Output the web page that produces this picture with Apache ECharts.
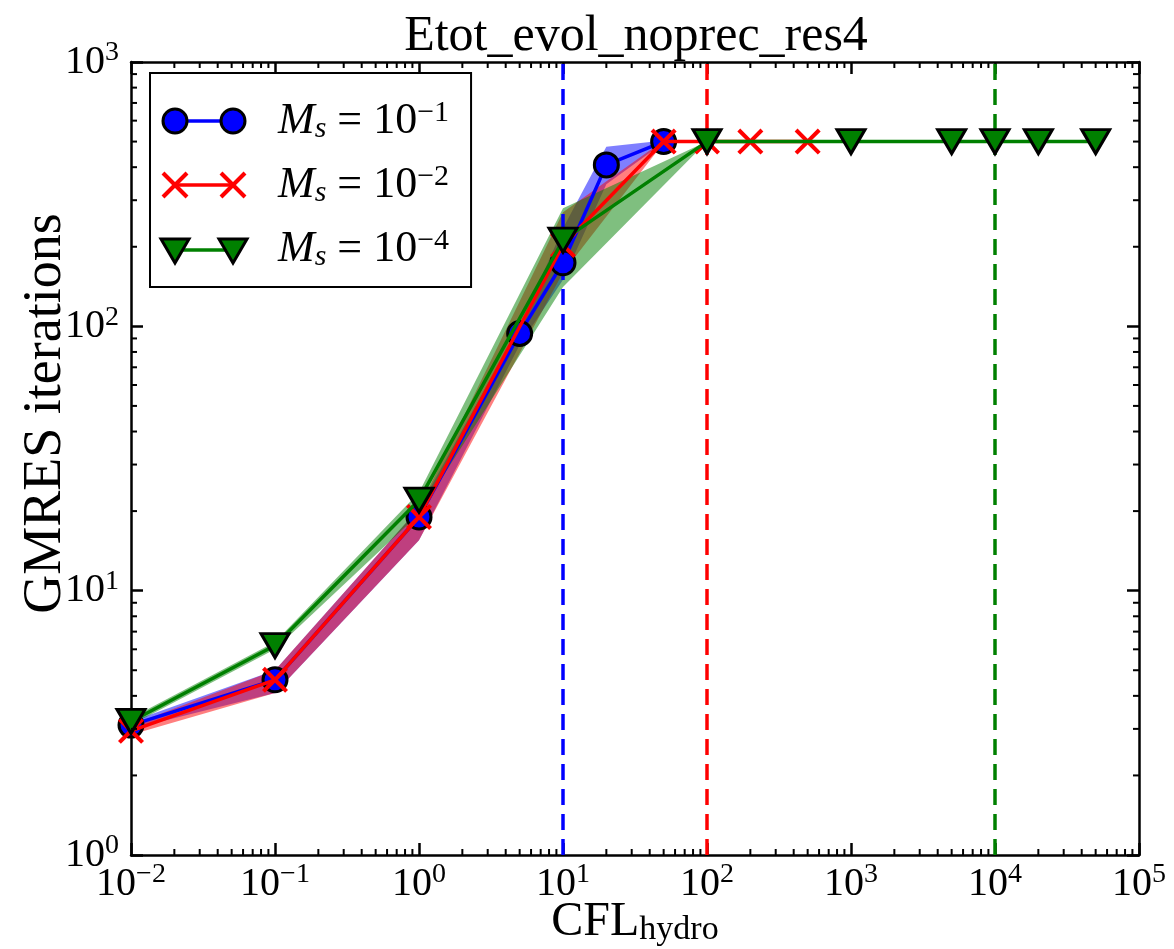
<!DOCTYPE html>
<html><head><meta charset="utf-8">
<script src="https://cdn.jsdelivr.net/npm/echarts@6/dist/echarts.min.js"></script>
<style>html,body{margin:0;padding:0;background:#fff}#chart{width:1174px;height:949px}</style>
</head><body><div id="chart"></div>
<script>
// ---- data ----
const xBlue  = [0.01, 0.1, 1, 5, 10, 20, 50];
const yBlue  = [3.1, 4.6, 19, 94, 174, 408, 500];
const loBlue = [3.0, 4.1, 15.5, 85, 150, 345, 495];
const hiBlue = [3.2, 5.0, 20.5, 100, 235, 478, 505];

const xRed  = [0.01, 0.1, 1, 10, 50, 100, 200, 500];
const yRed  = [2.95, 4.6, 19, 203, 500, 500, 500, 500];
const loRed = [2.85, 4.1, 15.5, 160, 495, 500, 500, 500];
const hiRed = [3.1, 5.0, 20.5, 270, 505, 500, 500, 500];

const xGreen  = [0.01, 0.1, 1, 10, 100, 1000, 5000, 10000, 20000, 50000];
const yGreen  = [3.2, 6.2, 22, 212, 500, 500, 500, 500, 500, 500];
const loGreen = [3.1, 6.0, 19.5, 141, 500, 500, 500, 500, 500, 500];
const hiGreen = [3.3, 6.4, 23.5, 280, 500, 500, 500, 500, 500, 500];

const vlines = [10, 100, 10000];
const seriesNames = ['Ms = 1e-1', 'Ms = 1e-2', 'Ms = 1e-4'];
const seriesExps = ['\u22121', '\u22122', '\u22124'];
const minorMult = [2, 3, 4, 5, 6, 7, 8, 9];
const X_MIN = 0.01, X_MAX = 100000, Y_MIN = 1, Y_MAX = 1000;

// ---- styling ----
const F = '"Liberation Serif", "DejaVu Serif", serif';
const BLUE = '#0000ff', RED = '#ff0000', GREEN = '#008000';

const chart = echarts.init(document.getElementById('chart'), null, {renderer: 'canvas'});

function pairs(xs, ys) { return xs.map((x, i) => [x, ys[i]]); }

function bandSeries(xs, lo, hi, color) {
  return {
    type: 'custom', z: 1, silent: true,
    data: [[xs[0], lo[0]]],
    renderItem: function (params, api) {
      const pts = [];
      for (let i = 0; i < xs.length; i++) pts.push(api.coord([xs[i], hi[i]]));
      for (let i = xs.length - 1; i >= 0; i--) pts.push(api.coord([xs[i], lo[i]]));
      return {type: 'polygon', shape: {points: pts}, style: {fill: color}};
    }
  };
}

// minor ticks (axis decoration)
const minorData = [];
for (let e = -2; e < 5; e++) minorMult.forEach(m => minorData.push([m * Math.pow(10, e), Y_MIN, 0]));
for (let e = 0; e < 3; e++) minorMult.forEach(m => minorData.push([X_MIN, m * Math.pow(10, e), 1]));

const minorSeries = {
  type: 'custom', z: 10, silent: true, data: minorData,
  renderItem: function (params, api) {
    const cs = params.coordSys;
    const st = {stroke: '#000', lineWidth: 2};
    const L = 6;
    if (api.value(2) === 0) {
      const p = api.coord([api.value(0), Y_MIN]);
      return {type: 'group', children: [
        {type: 'line', shape: {x1: p[0], y1: cs.y + cs.height, x2: p[0], y2: cs.y + cs.height - L}, style: st},
        {type: 'line', shape: {x1: p[0], y1: cs.y, x2: p[0], y2: cs.y + L}, style: st}
      ]};
    } else {
      const p = api.coord([X_MIN, api.value(1)]);
      return {type: 'group', children: [
        {type: 'line', shape: {x1: cs.x, y1: p[1], x2: cs.x + L, y2: p[1]}, style: st},
        {type: 'line', shape: {x1: cs.x + cs.width, y1: p[1], x2: cs.x + cs.width - L, y2: p[1]}, style: st}
      ]};
    }
  }
};

const tickRich = {
  b: {fontFamily: F, fontSize: 40, lineHeight: 46, color: '#000'},
  s: {fontFamily: F, fontSize: 28, lineHeight: 24, verticalAlign: 'top', color: '#000'}
};
function powLabel(v) {
  const e = Math.round(Math.log10(v));
  return '{b|10}{s|' + (e < 0 ? '\u2212' + (-e) : e) + '}';
}

const CROSS = 'path://M0,1.1 L1.1,0 L5,3.9 L8.9,0 L10,1.1 L6.1,5 L10,8.9 L8.9,10 L5,6.1 L1.1,10 L0,8.9 L3.9,5 Z';

function axisCommon(pos, isX) {
  return {
    type: 'log', logBase: 10, position: pos,
    min: isX ? X_MIN : Y_MIN, max: isX ? X_MAX : Y_MAX,
    splitNumber: isX ? 7 : 3,
    axisLine: {show: true, onZero: false, lineStyle: {color: '#000', width: 2.5}},
    axisTick: {show: true, inside: true, length: 12, lineStyle: {color: '#000', width: 2.5}},
    splitLine: {show: false},
    minorTick: {show: false},
    axisLabel: {show: false}
  };
}

const xBottom = Object.assign(axisCommon('bottom', true), {
  axisLabel: {show: true, formatter: powLabel, rich: tickRich, margin: 6, color: '#000'},
  name: '{m|CFL}{sub|hydro}', nameLocation: 'middle', nameGap: 42, nameMoveOverlap: false,
  nameTextStyle: {rich: {
    m: {fontFamily: F, fontSize: 48, lineHeight: 50, color: '#000'},
    sub: {fontFamily: F, fontSize: 34, lineHeight: 34, verticalAlign: 'bottom', color: '#000'}
  }}
});
const xTop = axisCommon('top', true);
const yLeft = Object.assign(axisCommon('left', false), {
  axisLabel: {show: true, formatter: powLabel, rich: tickRich, margin: 12, color: '#000'},
  name: 'GMRES iterations', nameLocation: 'middle', nameGap: 58, nameMoveOverlap: false,
  nameTextStyle: {fontFamily: F, fontSize: 54, color: '#000', padding: [0, 0, 0, 90]}
});
const yRight = axisCommon('right', false);

const legendRich = {
  i: {fontFamily: F, fontSize: 44, fontStyle: 'italic', lineHeight: 46, color: '#000'},
  sb: {fontFamily: F, fontSize: 30, fontStyle: 'italic', lineHeight: 22, verticalAlign: 'bottom', color: '#000'},
  t: {fontFamily: F, fontSize: 44, lineHeight: 46, color: '#000'},
  sp: {fontFamily: F, fontSize: 30, lineHeight: 24, verticalAlign: 'top', color: '#000'}
};

// legend icons (graphic)
const legY = [121, 185, 250], legX1 = 175, legX2 = 233;
const graphics = [];
[BLUE, RED, GREEN].forEach((c, k) => {
  const y = legY[k];
  graphics.push({type: 'line', z: 100, shape: {x1: legX1, y1: y, x2: legX2, y2: y}, style: {stroke: c, lineWidth: 3.5}});
  [legX1, legX2].forEach(x => {
    if (k === 0) {
      graphics.push({type: 'circle', z: 101, shape: {cx: x, cy: y, r: 12}, style: {fill: BLUE, stroke: '#000', lineWidth: 3}});
    } else if (k === 1) {
      graphics.push({type: 'line', z: 101, shape: {x1: x - 12, y1: y - 12, x2: x + 12, y2: y + 12}, style: {stroke: RED, lineWidth: 4}});
      graphics.push({type: 'line', z: 101, shape: {x1: x - 12, y1: y + 12, x2: x + 12, y2: y - 12}, style: {stroke: RED, lineWidth: 4}});
    } else {
      graphics.push({type: 'polygon', z: 101, shape: {points: [[x - 14, y - 11], [x + 14, y - 11], [x, y + 13]]}, style: {fill: GREEN, stroke: '#000', lineWidth: 3, lineJoin: 'miter'}});
    }
  });
});

const option = {
  animation: false,
  backgroundColor: '#fff',
  title: {
    text: 'Etot_evol_noprec_res4', left: 636, top: 12, textAlign: 'center', padding: 0,
    textStyle: {fontFamily: F, fontSize: 50, fontWeight: 'normal', color: '#000'}
  },
  grid: {left: 131, right: 35, top: 62, bottom: 94, containLabel: false, outerBoundsMode: 'none'},
  xAxis: [xBottom, xTop],
  yAxis: [yLeft, yRight],
  legend: {
    orient: 'vertical', left: 150, top: 73, padding: [25, 22, 15, 10],
    itemGap: 18, itemWidth: 113, itemHeight: 46,
    borderColor: '#000', borderWidth: 2, borderRadius: 0, backgroundColor: '#fff',
    selectedMode: false,
    data: seriesNames.map(n => ({name: n, icon: 'rect', itemStyle: {color: 'rgba(0,0,0,0)', borderWidth: 0, opacity: 0}, lineStyle: {opacity: 0}})),
    formatter: function (n) {
      const k = seriesNames.indexOf(n);
      return '{i|M}{sb|s}{t| = 10}{sp|' + seriesExps[k] + '}';
    },
    textStyle: {rich: legendRich, color: '#000'}
  },
  graphic: graphics,
  series: [
    bandSeries(xBlue, loBlue, hiBlue, 'rgba(0,0,255,0.5)'),
    bandSeries(xRed, loRed, hiRed, 'rgba(255,0,0,0.5)'),
    bandSeries(xGreen, loGreen, hiGreen, 'rgba(0,128,0,0.5)'),
    minorSeries,
    ...vlines.map((v, k) => ({
      type: 'line', z: 2, silent: true, symbol: 'none',
      data: [[v, Y_MIN], [v, Y_MAX]],
      lineStyle: {color: [BLUE, RED, GREEN][k], width: 3.5, type: [16, 9]}
    })),
    {
      name: seriesNames[0], type: 'line', z: 3, data: pairs(xBlue, yBlue),
      symbol: 'circle', symbolSize: 24, showAllSymbol: true,
      itemStyle: {color: BLUE, borderColor: '#000', borderWidth: 3},
      lineStyle: {color: BLUE, width: 3.5}, emphasis: {disabled: true}
    },
    {
      name: seriesNames[1], type: 'line', z: 4, data: pairs(xRed, yRed),
      symbol: CROSS, symbolSize: 26, showAllSymbol: true,
      itemStyle: {color: RED, borderWidth: 0},
      lineStyle: {color: RED, width: 3.5}, emphasis: {disabled: true}
    },
    {
      name: seriesNames[2], type: 'line', z: 5, data: pairs(xGreen, yGreen),
      symbol: 'triangle', symbolRotate: 180, symbolSize: [28, 24], showAllSymbol: true,
      itemStyle: {color: GREEN, borderColor: '#000', borderWidth: 3},
      lineStyle: {color: GREEN, width: 3.5}, emphasis: {disabled: true}
    }
  ]
};
chart.setOption(option);
</script>
</body></html>
